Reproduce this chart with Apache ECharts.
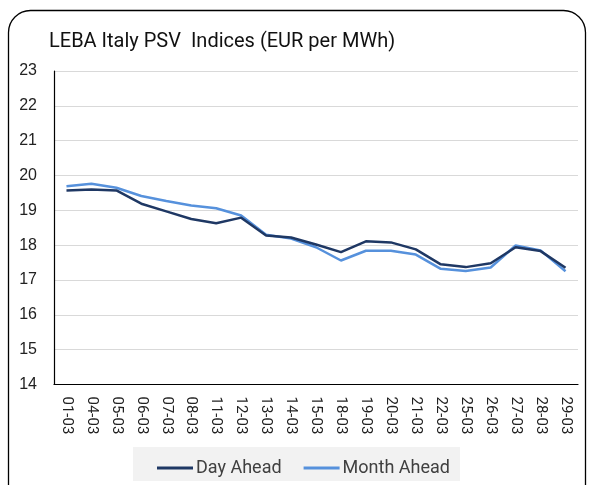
<!DOCTYPE html>
<html><head><meta charset="utf-8">
<script src="https://cdn.jsdelivr.net/npm/echarts@6/dist/echarts.min.js"></script>
<style>html,body{margin:0;padding:0;background:#fff}#c{width:590px;height:485px}</style>
</head><body><div id="c"></div>
<script>
const categories = ['01-03','04-03','05-03','06-03','07-03','08-03','11-03','12-03','13-03','14-03','15-03','18-03','19-03','20-03','21-03','22-03','25-03','26-03','27-03','28-03','29-03'];
const dayAhead   = [19.57,19.60,19.57,19.19,18.97,18.75,18.63,18.79,18.28,18.22,18.02,17.80,18.11,18.08,17.88,17.45,17.37,17.48,17.94,17.83,17.35];
const monthAhead = [19.69,19.76,19.65,19.41,19.27,19.14,19.06,18.85,18.30,18.19,17.94,17.56,17.84,17.84,17.73,17.32,17.26,17.36,17.99,17.85,17.25];
const yTicks = {min:14, max:23, interval:1};

const chart = echarts.init(document.getElementById('c'), null, {renderer:'canvas'});
chart.setOption({
  animation:false,
  graphic:[
    {type:'rect', shape:{x:8.5,y:10.5,width:577,height:520,r:22}, style:{fill:'none',stroke:'#000',lineWidth:1.3}, z:-1},
    {type:'rect', shape:{x:133,y:447,width:327,height:34}, style:{fill:'#f2f2f2'}, z:-1}
  ],
  title:{text:'LEBA Italy PSV  Indices (EUR per MWh)', left:44, top:27,
    textStyle:{fontFamily:'Roboto', fontSize:20, fontWeight:'normal', color:'#111'}},
  grid:{left:54, right:12, top:71, height:313.5},
  legend:{top:454, left:152, itemWidth:36, itemHeight:3, itemGap:22, icon:'rect',
    data:['Day Ahead','Month Ahead'],
    textStyle:{fontFamily:'Roboto', fontSize:18, color:'#404040', padding:[0,0,0,-2]}},
  xAxis:{type:'category', data:categories, boundaryGap:true,
    axisLine:{lineStyle:{color:'#000', width:1.2}}, axisTick:{show:false},
    axisLabel:{rotate:-90, fontFamily:'Roboto', fontSize:15, color:'#222', margin:12, interval:0}},
  yAxis:{type:'value', min:yTicks.min, max:yTicks.max, interval:yTicks.interval,
    axisLine:{show:true, lineStyle:{color:'#000', width:1.2}}, axisTick:{show:false},
    splitLine:{lineStyle:{color:'#d9d9d9', width:1}},
    axisLabel:{fontFamily:'Liberation Sans', fontSize:16, color:'#222', margin:17}},
  series:[
    {name:'Day Ahead', type:'line', data:dayAhead, symbol:'none', lineStyle:{color:'#1f3864', width:2.5}, itemStyle:{color:'#1f3864'}, z:3},
    {name:'Month Ahead', type:'line', data:monthAhead, symbol:'none', lineStyle:{color:'#5691dc', width:2.5}, itemStyle:{color:'#5691dc'}, z:2}
  ]
});
</script></body></html>
